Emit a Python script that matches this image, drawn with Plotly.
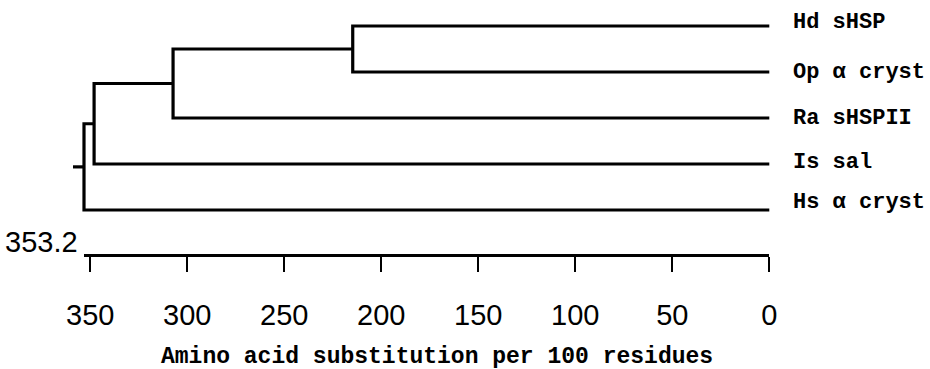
import plotly.graph_objects as go

# ---- data ----
leaf_labels = ["Hd sHSP", "Op \u03b1 cryst", "Ra sHSPII", "Is sal", "Hs \u03b1 cryst"]
# merges: (left member, right member, height)  -- members: leaf index or "n<k>" internal node
merge_left = [0, "n0", "n1", "n2"]
merge_right = [1, 2, 3, 4]
merge_height = [214.7, 307.3, 348.0, 353.2]
scale_max = 353.2
tick_values = [350, 300, 250, 200, 150, 100, 50, 0]
tick_text = ["350", "300", "250", "200", "150", "100", "50", "0"]
axis_title = "Amino acid substitution per 100 residues"

# ---- style ----
W, H = 930, 369
px0 = 769.3           # pixel of value 0
k = (769.3 - 84.0) / scale_max   # px per unit
leaf_top_px, leaf_step_px = 26.0, 46.0
axis_px = 255.0
root_stub = 11.0 / k
label_yshift = [4, 0, 0, 2, 8]
mono = "Liberation Mono, Courier New, monospace"
narrow = "Liberation Sans Narrow, Arial Narrow, Liberation Sans, sans-serif"

# ---- build dendrogram segments ----
node_pos = {}
node_h = {}
xs, ys = [], []
for i, (a, b, h) in enumerate(zip(merge_left, merge_right, merge_height)):
    def pos(m):
        return (node_pos[m], node_h[m]) if isinstance(m, str) else (float(m), 0.0)
    ya, ha = pos(a)
    yb, hb = pos(b)
    xs += [ha, h, h, hb, None]
    ys += [ya, ya, yb, yb, None]
    node_pos[f"n{i}"] = (ya + yb) / 2
    node_h[f"n{i}"] = h
root = f"n{len(merge_height) - 1}"
xs += [node_h[root], node_h[root] + root_stub, None]
ys += [node_pos[root], node_pos[root], None]

fig = go.Figure()
fig.add_trace(go.Scatter(x=xs, y=ys, mode="lines",
                         line=dict(color="black", width=3.2, shape="linear"),
                         hoverinfo="skip", showlegend=False))
# dummy trace to activate the scale axis
fig.add_trace(go.Scatter(x=[scale_max, 0], y=[None, None], xaxis="x2", yaxis="y",
                         mode="lines", hoverinfo="skip", showlegend=False))

for i, lab in enumerate(leaf_labels):
    fig.add_annotation(x=0, y=i, xref="x", yref="y", text=f"<b>{lab}</b>", showarrow=False,
                       xanchor="left", yanchor="middle", xshift=22, yshift=label_yshift[i],
                       font=dict(family=mono, size=22, color="black"))

axis_pos = 1 - axis_px / H
fig.add_annotation(x=scale_max, y=axis_pos, xref="x2", yref="paper", text=f"{scale_max}",
                   showarrow=False, xanchor="right", yanchor="middle", xshift=-4, yshift=13,
                   font=dict(family=narrow, size=29, color="black"))
fig.add_annotation(x=436.5 / W, y=1 - 357 / H, xref="paper", yref="paper", text=f"<b>{axis_title}</b>",
                   showarrow=False, xanchor="center", yanchor="middle",
                   font=dict(family=mono, size=23, color="black"))

x_left = px0 / k
x_right = -(W - px0) / k
y_top = -leaf_top_px / leaf_step_px
y_bot = (H - leaf_top_px) / leaf_step_px

fig.update_layout(
    width=W, height=H, margin=dict(l=0, r=0, t=0, b=0, pad=0, autoexpand=False),
    paper_bgcolor="white", plot_bgcolor="rgba(0,0,0,0)",
    xaxis=dict(range=[x_left, x_right], visible=False, domain=[0, 1], automargin=False),
    yaxis=dict(range=[y_bot, y_top], visible=False, domain=[0, 1], automargin=False),
    xaxis2=dict(domain=[(px0 - scale_max * k) / W, px0 / W], range=[scale_max, 0],
                anchor="free", position=axis_pos, automargin=False,
                showline=True, linewidth=3, linecolor="black",
                ticks="outside", ticklen=15, tickwidth=2, tickcolor="black",
                tickvals=tick_values, ticktext=tick_text, ticklabelstandoff=18,
                tickfont=dict(family=narrow, size=29, color="black"),
                showgrid=False, zeroline=False),
)

fig.write_html("out.html", config={"displayModeBar": False},
               post_script="document.body.style.margin='0';document.body.style.padding='0';")
